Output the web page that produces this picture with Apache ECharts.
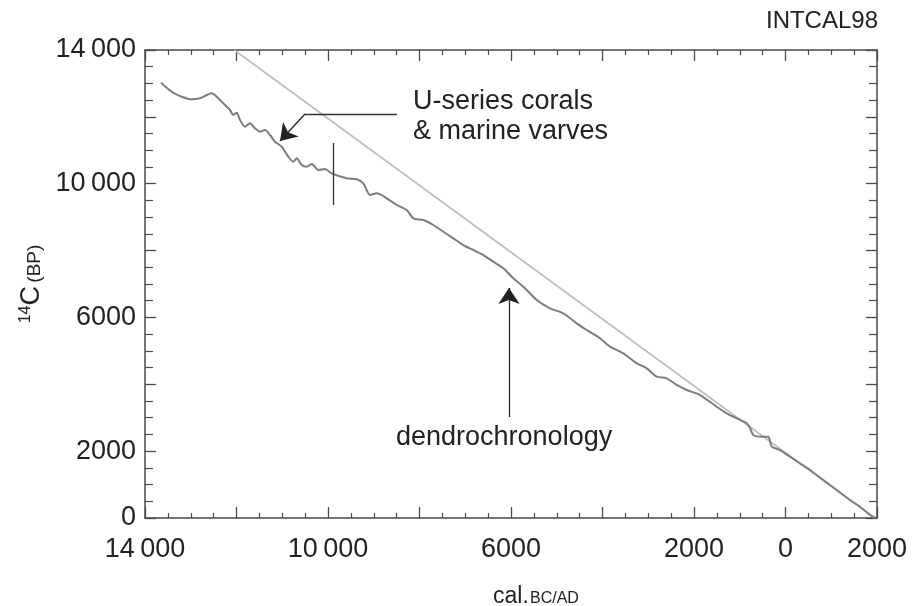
<!DOCTYPE html>
<html>
<head>
<meta charset="utf-8">
<script src="https://cdn.jsdelivr.net/npm/echarts@6/dist/echarts.min.js"></script>
<style>html,body{margin:0;padding:0;background:#fff;}#c{width:913px;height:606px;}</style>
</head>
<body>
<div id="c"></div>
<script>
// Calendar years (negative = BC) and radiocarbon ages (BP)
var calYear = [-13650,-13416,-13198,-12979,-12798,-12651,-12542,-12433,-12289,-12142,-12070,-11996,-11923,-11814,-11705,-11596,-11486,-11377,-11268,-11158,-11012,-10868,-10758,-10684,-10575,-10466,-10356,-10212,-10066,-9919,-9591,-9373,-9228,-9082,-8936,-8717,-8498,-8280,-8135,-7917,-7698,-7480,-7261,-7043,-6824,-6605,-6387,-6168,-5950,-5731,-5438,-5148,-4857,-4564,-4345,-4055,-3836,-3545,-3252,-3034,-2815,-2597,-2378,-2160,-1869,-1504,-1285,-1067,-848,-776,-704,-520,-376,-302,-120,98,317,536,826,1119,1410,1628,1847,1956];
var c14Age = [13020,12752,12603,12525,12555,12653,12704,12603,12405,12205,12055,12124,11905,11705,11807,11657,11556,11606,11457,11256,11107,10808,10658,10760,10559,10509,10589,10410,10440,10311,10161,10132,10012,9662,9713,9563,9363,9213,8965,8914,8765,8564,8367,8166,8017,7867,7667,7469,7170,6919,6521,6273,6123,5824,5624,5375,5124,4927,4628,4478,4227,4179,3979,3829,3679,3329,3132,2982,2833,2692,2483,2432,2432,2133,2034,1834,1636,1436,1137,838,538,338,90,15];
// 1:1 reference line (BP = 1950 - cal year)
var refLineCal = [-12050, 1950];
var refLineBP = [14000, 0];
// Tick labels
var xLabelValues = [-14000,-10000,-6000,-2000,0,2000];
var xLabelTexts = ['14\u2009000','10\u2009000','6000','2000','0','2000'];
var yLabelValues = [0,2000,6000,10000,14000];
var yLabelTexts = ['0','2000','6000','10\u2009000','14\u2009000'];
// Annotations (data coordinates)
var coralLeader = [[-8492,12085],[-10503,12085]];
var coralArrow = [[-10503,12085],[-11049,11277]];
var dendroArrow = [[-6044,3021],[-6044,6880]];
var junctionMark = [[-9891,9363],[-9891,11217]];

var FONT = '"Liberation Sans", Arial, Helvetica, sans-serif';
var AX = '#4a4a4a';

function lbl(values, texts){
  return function(v){ var i = values.indexOf(v); return i >= 0 ? texts[i] : ''; };
}
function zip(a,b){ return a.map(function(v,i){ return [v,b[i]]; }); }

var chart = echarts.init(document.getElementById('c'), null, {renderer:'canvas'});
var xBase = {
  type:'value', min:-14000, max:2000, interval:2000,
  axisLine:{show:true, onZero:false, lineStyle:{color:AX, width:1.5}},
  axisTick:{show:true, inside:true, length:11, lineStyle:{color:AX, width:1.3}},
  minorTick:{show:true, splitNumber:4, length:5, lineStyle:{color:AX, width:1.2}},
  splitLine:{show:false}, minorSplitLine:{show:false}
};
var yBase = {
  type:'value', min:0, max:14000, interval:2000,
  axisLine:{show:true, onZero:false, lineStyle:{color:AX, width:1.5}},
  axisTick:{show:true, inside:true, length:11, lineStyle:{color:AX, width:1.3}},
  minorTick:{show:true, splitNumber:4, length:8, lineStyle:{color:AX, width:1.2}},
  splitLine:{show:false}, minorSplitLine:{show:false}
};

var option = {
  animation:false,
  backgroundColor:'#ffffff',
  grid:{left:145, right:36, top:50, bottom:88, containLabel:false},
  xAxis:[
    Object.assign({}, xBase, {position:'bottom',
      axisLabel:{show:true, margin:18, fontSize:27, color:'#222', fontFamily:FONT, formatter:lbl(xLabelValues,xLabelTexts), showMinLabel:true, showMaxLabel:true}}),
    Object.assign({}, xBase, {position:'top', axisLabel:{show:false}})
  ],
  yAxis:[
    Object.assign({}, yBase, {position:'left',
      axisLabel:{show:true, margin:9, fontSize:27, color:'#222', fontFamily:FONT, formatter:lbl(yLabelValues,yLabelTexts)},
      name:'{sup|14}{c|C} {s|(BP)}', nameLocation:'middle', nameRotate:90, nameGap:97,
      nameTextStyle:{fontFamily:FONT, color:'#222', rich:{
        sup:{fontSize:16, fontFamily:FONT, color:'#222', verticalAlign:'top', lineHeight:16},
        c:{fontSize:27, fontFamily:FONT, color:'#222', verticalAlign:'bottom', lineHeight:27},
        s:{fontSize:19, fontFamily:FONT, color:'#222', verticalAlign:'bottom', lineHeight:19}
      }}}),
    Object.assign({}, yBase, {position:'right', axisLabel:{show:false}})
  ],
  series:[
    {type:'line', name:'1:1', data:zip(refLineCal, refLineBP), showSymbol:false, symbol:'none',
     lineStyle:{color:'#bdbdbd', width:1.6}, z:2, silent:true},
    {type:'line', name:'INTCAL98', data:zip(calYear, c14Age), showSymbol:false, symbol:'none',
     lineStyle:{color:'#7d7d7d', width:2}, z:3, silent:true, smooth:0.25},
    {type:'lines', coordinateSystem:'cartesian2d', z:4, silent:true,
     symbol:['none','arrow'], symbolSize:[10,16],
     lineStyle:{color:'#222', width:1.3, opacity:1},
     data:[{coords:coralArrow},{coords:dendroArrow}]},
    {type:'lines', coordinateSystem:'cartesian2d', z:4, silent:true,
     symbol:['none','none'],
     lineStyle:{color:'#333', width:1.3, opacity:1},
     data:[{coords:coralLeader},{coords:junctionMark}]}
  ],
  graphic:[
    {type:'text', right:35, top:9, style:{text:'INTCAL98', font:'24px '+FONT, fill:'#222'}},
    {type:'text', left:413, top:88, style:{text:'U-series corals', font:'27px '+FONT, fill:'#222'}},
    {type:'text', left:413, top:118, style:{text:'& marine varves', font:'27px '+FONT, fill:'#222'}},
    {type:'text', left:396, top:424, style:{text:'dendrochronology', font:'27px '+FONT, fill:'#222'}},
    {type:'text', style:{x:493, y:608, text:'cal.', font:'23px '+FONT, fill:'#222', verticalAlign:'bottom'}},
    {type:'text', style:{x:530, y:606.6, text:'BC/AD', font:'16px '+FONT, fill:'#222', verticalAlign:'bottom'}}
  ]
};
chart.setOption(option);
</script>
</body>
</html>
